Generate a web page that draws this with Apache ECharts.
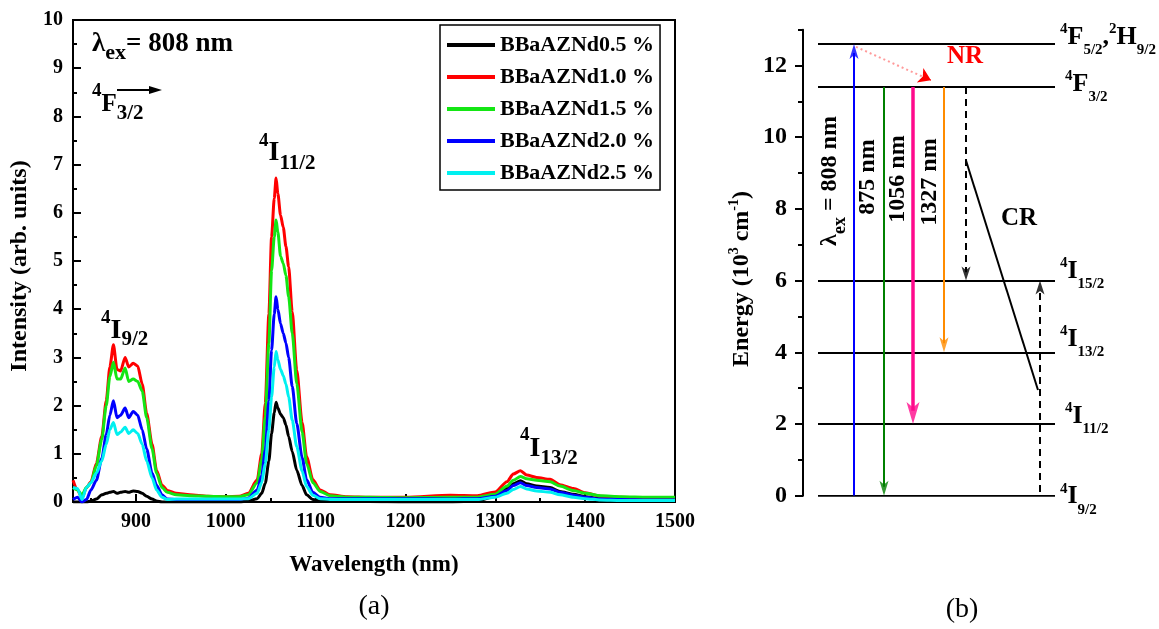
<!DOCTYPE html>
<html>
<head>
<meta charset="utf-8">
<title>Nd3+ emission spectra and energy levels</title>
<script src="https://cdn.jsdelivr.net/npm/echarts@6/dist/echarts.min.js"></script>
<style>
html, body { margin: 0; padding: 0; background: #fff; }
#main { width: 1159px; height: 629px; }
</style>
</head>
<body>
<div id="main"></div>
<script>
// (a) emission spectra, wavelength in nm
var wavelength = [
    830, 835, 840, 845, 850,
    856, 862, 867, 871, 875,
    879, 883, 888, 892, 897,
    902, 907, 912, 918, 923,
    929, 935, 945, 960, 980,
    1000, 1015, 1025, 1035, 1040,
    1044, 1048, 1051, 1054, 1056,
    1058, 1061, 1064, 1067, 1070,
    1074, 1079, 1085, 1090, 1097,
    1105, 1116, 1135, 1160, 1200,
    1250, 1280, 1300, 1313, 1320,
    1328, 1335, 1346, 1361, 1372,
    1387, 1400, 1417, 1440, 1470,
    1500
];
var nd05 = [
    0.00, 0.00, 0.00, 0.00, 0.02,
    0.06, 0.15, 0.18, 0.20, 0.22,
    0.18, 0.20, 0.22, 0.20, 0.23,
    0.22, 0.18, 0.12, 0.06, 0.02,
    0.00, 0.00, 0.00, 0.00, 0.00,
    0.00, 0.00, 0.02, 0.07, 0.18,
    0.39, 0.85, 1.42, 1.85, 2.07,
    1.95, 1.82, 1.75, 1.60, 1.36,
    1.05, 0.66, 0.34, 0.15, 0.05,
    0.02, 0.01, 0.01, 0.01, 0.00,
    0.00, 0.02, 0.12, 0.28, 0.38,
    0.44, 0.38, 0.33, 0.30, 0.22,
    0.16, 0.11, 0.07, 0.05, 0.03,
    0.03
];
var nd10 = [
    0.45, 0.25, 0.08, 0.30, 0.42,
    0.80, 1.36, 2.10, 2.80, 3.26,
    2.75, 2.72, 3.00, 2.80, 2.88,
    2.82, 2.45, 1.84, 1.20, 0.66,
    0.35, 0.24, 0.18, 0.15, 0.12,
    0.11, 0.12, 0.18, 0.46, 1.00,
    2.05, 3.90, 5.50, 6.30, 6.72,
    6.40, 5.95, 5.70, 5.30, 4.88,
    3.95, 2.74, 1.65, 0.94, 0.46,
    0.25, 0.15, 0.11, 0.10, 0.10,
    0.14, 0.13, 0.21, 0.42, 0.58,
    0.65, 0.56, 0.51, 0.47, 0.36,
    0.28, 0.19, 0.12, 0.10, 0.08,
    0.08
];
var nd15 = [
    0.30, 0.25, 0.15, 0.30, 0.40,
    0.75, 1.30, 2.00, 2.60, 2.90,
    2.55, 2.55, 2.78, 2.50, 2.55,
    2.50, 2.30, 1.75, 1.10, 0.60,
    0.30, 0.20, 0.15, 0.13, 0.12,
    0.11, 0.11, 0.15, 0.40, 0.87,
    1.77, 3.30, 4.80, 5.50, 5.85,
    5.60, 5.10, 4.95, 4.70, 4.26,
    3.50, 2.46, 1.45, 0.80, 0.40,
    0.22, 0.13, 0.10, 0.10, 0.09,
    0.10, 0.10, 0.16, 0.33, 0.45,
    0.53, 0.48, 0.45, 0.42, 0.33,
    0.24, 0.18, 0.13, 0.11, 0.10,
    0.10
];
var nd20 = [
    0.05, 0.10, 0.00, 0.05, 0.25,
    0.45, 0.90, 1.40, 1.80, 2.10,
    1.75, 1.80, 1.95, 1.75, 1.88,
    1.80, 1.50, 1.10, 0.60, 0.35,
    0.15, 0.06, 0.05, 0.05, 0.05,
    0.05, 0.05, 0.08, 0.25, 0.55,
    1.08, 2.10, 3.15, 3.90, 4.26,
    4.00, 3.70, 3.50, 3.30, 3.00,
    2.40, 1.63, 0.92, 0.46, 0.20,
    0.10, 0.07, 0.07, 0.07, 0.07,
    0.06, 0.07, 0.12, 0.24, 0.34,
    0.40, 0.34, 0.30, 0.27, 0.20,
    0.14, 0.10, 0.06, 0.05, 0.04,
    0.04
];
var nd25 = [
    0.30, 0.28, 0.05, 0.30, 0.40,
    0.60, 0.85, 1.20, 1.50, 1.65,
    1.40, 1.45, 1.55, 1.42, 1.50,
    1.42, 1.20, 0.85, 0.50, 0.25,
    0.10, 0.05, 0.06, 0.06, 0.06,
    0.06, 0.06, 0.07, 0.18, 0.40,
    0.80, 1.50, 2.18, 2.80, 3.12,
    2.95, 2.75, 2.62, 2.45, 2.18,
    1.70, 1.15, 0.64, 0.32, 0.14,
    0.07, 0.05, 0.05, 0.05, 0.05,
    0.05, 0.05, 0.10, 0.18, 0.26,
    0.32, 0.27, 0.23, 0.20, 0.15,
    0.10, 0.07, 0.04, 0.03, 0.03,
    0.03
];
var sampleNames = ['BBaAZNd0.5 %', 'BBaAZNd1.0 %', 'BBaAZNd1.5 %', 'BBaAZNd2.0 %', 'BBaAZNd2.5 %'];
var xMajorTicks = [900, 1000, 1100, 1200, 1300, 1400, 1500];
var xMinorTicks = [850, 950, 1050, 1150, 1250, 1350, 1450];

// (b) energy levels (10^3 cm-1)
var levelEnergy = [12.6, 11.4, 6, 4, 2, 0];
var levelName = [
    '{sup|4}{big|F}{sub|5/2}{big|,}{sup|2}{big|H}{sub|9/2}',
    '{sup|4}{big|F}{sub|3/2}',
    '{sup|4}{big|I}{sub|15/2}',
    '{sup|4}{big|I}{sub|13/2}',
    '{sup|4}{big|I}{sub|11/2}',
    '{sup|4}{big|I}{sub|9/2}'
];
// transitions: excitation, 875, 1056, 1327, NR down, CR up
var transFrom = [0, 11.4, 11.4, 11.4, 11.4, 0.1];
var transTo = [12.6, 0, 2, 4, 6, 6];
var yMajorB = [0, 2, 4, 6, 8, 10, 12];
var yMinorB = [1, 3, 5, 7, 9, 11, 13];

var FONT = "'Liberation Serif', 'Times New Roman', serif";
var dataSets = [nd05, nd10, nd15, nd20, nd25];
var lineColors = ['#000000', '#ff0000', '#14e614', '#0000ff', '#00f0f0'];

// rich styles for a big letter with superscript / subscript
function tok(size, w, extra) {
    var s = {font: w + ' ' + size + 'px ' + FONT, fontSize: size, fontWeight: w, fontFamily: FONT, fill: '#000'};
    for (var k in extra) s[k] = extra[k];
    return s;
}
function sups(big, supSize, subSize, dSup, dSub, weight) {
    var L = 2 * Math.max(-dSup, dSub) + 6;
    var hs = L + 2 * dSup, hb = L - 2 * dSub;
    var w = weight || 'bold';
    return {
        big: tok(big, w, {lineHeight: L, verticalAlign: 'middle'}),
        b: tok(big, w, {lineHeight: L, verticalAlign: 'middle'}),
        sup: tok(supSize, w, {height: hs, lineHeight: hs, verticalAlign: 'top'}),
        sub: tok(subSize, w, {height: hb, lineHeight: hb, verticalAlign: 'bottom'})
    };
}

var myChart = echarts.init(document.getElementById('main'));

var series = [];
dataSets.forEach(function (vals, i) {
    series.push({
        name: sampleNames[i],
        type: 'line',
        xAxisIndex: 0,
        yAxisIndex: 0,
        symbol: 'none',
        smooth: 0.25,
        smoothMonotone: 'x',
        lineStyle: {color: lineColors[i], width: 3},
        itemStyle: {color: lineColors[i]},
        data: wavelength.map(function (w, k) { return [w, vals[k]]; }),
        z: 3 + i
    });
});

// (b) layout in grid-1 x units (1 unit = 1 px)
var levelX = [15, 252];
var transX = [51, 81, 110, 141, 163, 237];
var transStyle = [
    {color: '#0000ff', width: 2, type: 'solid', head: [9, 15]},
    {color: '#008000', width: 2, type: 'solid', head: [9, 15]},
    {color: '#ff0a8c', width: 3.5, type: 'solid', head: [13, 22]},
    {color: '#ff8c00', width: 2, type: 'solid', head: [9, 15]},
    {color: '#000000', width: 2, type: [7, 5], head: [9, 14]},
    {color: '#000000', width: 2, type: [7, 5], head: [9, 14]}
];
var labelShift = [[5, -7], [10, -3], [5, -9], [5, -13], [10, -8], [5, 1]];
var pxPerUnit = 466 / 13;
var UP = 'path://M0,16L5,12L10,16L5,0Z';
var DOWN = 'path://M0,0L5,4L10,0L5,16Z';

series.push({
    type: 'lines', coordinateSystem: 'cartesian2d', xAxisIndex: 2, yAxisIndex: 1,
    silent: true, z: 2,
    lineStyle: {color: '#000', width: 2, opacity: 1},
    data: levelEnergy.map(function (e) { return {coords: [[levelX[0], e], [levelX[1], e]]}; })
});
series.push({
    type: 'lines', coordinateSystem: 'cartesian2d', xAxisIndex: 2, yAxisIndex: 1,
    silent: true, z: 3,
    data: transFrom.map(function (f, i) {
        var s = transStyle[i];
        var dir = transTo[i] > f ? 1 : -1;
        var end = transTo[i] - dir * (s.head[1] * 0.6) / pxPerUnit;
        return {coords: [[transX[i], f], [transX[i], end]],
            lineStyle: {color: s.color, width: s.width, type: s.type, opacity: 1}};
    }).concat([{coords: [[163, 9.35], [235, 2.95]], lineStyle: {color: '#000', width: 2, type: 'solid', opacity: 1}}])
});
series.push({
    type: 'scatter', xAxisIndex: 2, yAxisIndex: 1, silent: true, z: 4,
    data: transTo.map(function (t, i) {
        var s = transStyle[i];
        var up = t > transFrom[i];
        return {value: [transX[i], t], symbol: up ? UP : DOWN, symbolSize: s.head,
            symbolOffset: [0, up ? '50%' : '-50%'], itemStyle: {color: s.color}};
    })
});
// NR relaxation arrow 4F5/2 -> 4F3/2
series.push({
    type: 'lines', coordinateSystem: 'cartesian2d', xAxisIndex: 2, yAxisIndex: 1,
    silent: true, z: 3,
    lineStyle: {color: '#ff9a9a', width: 2, type: [2, 3], opacity: 1},
    data: [{coords: [[53, 12.52], [122, 11.66]]}]
});
series.push({
    type: 'lines', coordinateSystem: 'cartesian2d', xAxisIndex: 2, yAxisIndex: 1,
    silent: true, z: 4, symbol: ['none', 'arrow'], symbolSize: 12,
    lineStyle: {color: '#ff0000', width: 1, opacity: 1},
    data: [{coords: [[120, 11.69], [128, 11.59]]}]
});

var black2 = {color: '#000', width: 2};

var graphics = [
    // panel (a) annotations
    {type: 'text', x: 92, y: 44, style: {text: '{b|λ}{sub|ex}{b|= 808 nm}', rich: sups(27, 18, 22, -10, 9), align: 'left', verticalAlign: 'middle'}},
    {type: 'text', x: 92, y: 104.5, style: {text: '{sup|4}{big|F}{sub|3/2}', rich: sups(25, 19, 21, -13.5, 9), align: 'left', verticalAlign: 'middle'}},
    {type: 'line', shape: {x1: 117, y1: 90, x2: 152, y2: 90}, style: {stroke: '#000', lineWidth: 2}},
    {type: 'polygon', shape: {points: [[149, 86], [162, 90], [149, 94]]}, style: {fill: '#000'}},
    {type: 'text', x: 259, y: 153, style: {text: '{sup|4}{big|I}{sub|11/2}', rich: sups(28, 19, 21, -12, 11), align: 'left', verticalAlign: 'middle'}},
    {type: 'text', x: 101, y: 331, style: {text: '{sup|4}{big|I}{sub|9/2}', rich: sups(28, 19, 21, -12.5, 9), align: 'left', verticalAlign: 'middle'}},
    {type: 'text', x: 520, y: 449, style: {text: '{sup|4}{big|I}{sub|13/2}', rich: sups(28, 19, 21, -13.5, 9.5), align: 'left', verticalAlign: 'middle'}},
    {type: 'text', x: 374, y: 607, style: {text: '(a)', fill: '#000', font: '28px ' + FONT, align: 'center', verticalAlign: 'middle'}},
    // panel (b) annotations
    {type: 'text', x: 742, y: 279, rotation: Math.PI / 2, style: {text: '{b|Energy (10}{sup|3}{b| cm}{sup|-1}{b|)}', rich: sups(24, 14, 14, -8, 4), align: 'center', verticalAlign: 'middle'}},
    {type: 'text', x: 830, y: 181, rotation: Math.PI / 2, style: {text: '{b|λ}{sub|ex}{b| = 808 nm}', rich: sups(24, 14, 18, -6, 10), align: 'center', verticalAlign: 'middle'}},
    {type: 'text', x: 868, y: 177, rotation: Math.PI / 2, style: {text: '875 nm', fill: '#000', font: 'bold 24px ' + FONT, align: 'center', verticalAlign: 'middle'}},
    {type: 'text', x: 898, y: 179, rotation: Math.PI / 2, style: {text: '1056 nm', fill: '#000', font: 'bold 24px ' + FONT, align: 'center', verticalAlign: 'middle'}},
    {type: 'text', x: 930, y: 182, rotation: Math.PI / 2, style: {text: '1327 nm', fill: '#000', font: 'bold 24px ' + FONT, align: 'center', verticalAlign: 'middle'}},
    {type: 'text', x: 965, y: 57, style: {text: 'NR', fill: '#ff0000', font: 'bold 25px ' + FONT, align: 'center', verticalAlign: 'middle'}},
    {type: 'text', x: 1019, y: 219, style: {text: 'CR', fill: '#000', font: 'bold 25px ' + FONT, align: 'center', verticalAlign: 'middle'}},
    {type: 'text', x: 962, y: 610, style: {text: '(b)', fill: '#000', font: '28px ' + FONT, align: 'center', verticalAlign: 'middle'}}
];

var option = {
    backgroundColor: '#fff',
    animation: false,
    grid: [
        {left: 73, top: 20, width: 602, height: 482, show: true, borderColor: '#000', borderWidth: 2, backgroundColor: 'transparent'},
        {left: 803, top: 29.65, width: 300, height: 466.05}
    ],
    legend: {
        left: 440, top: 25, orient: 'vertical',
        data: sampleNames,
        icon: 'rect',
        itemWidth: 48, itemHeight: 4, itemGap: 10,
        padding: [9, 6, 6, 7],
        borderColor: '#000', borderWidth: 1.5,
        selectedMode: false,
        textStyle: {fontSize: 22, fontWeight: 'bold', fontFamily: FONT, color: '#000'}
    },
    xAxis: [
        {
            gridIndex: 0, type: 'value', min: 830, max: 1500,
            name: 'Wavelength (nm)', nameLocation: 'middle', nameGap: 52,
            nameTextStyle: {color: '#000', fontFamily: FONT, fontWeight: 'bold', fontSize: 23},
            axisLine: {lineStyle: black2},
            axisTick: {inside: true, length: 8, lineStyle: black2, customValues: xMajorTicks},
            axisLabel: {customValues: xMajorTicks, formatter: function (v) { return String(v); },
                color: '#000', fontFamily: FONT, fontWeight: 'bold', fontSize: 20, margin: 10},
            splitLine: {show: false}
        },
        {
            gridIndex: 0, type: 'value', min: 830, max: 1500, position: 'bottom',
            axisLine: {show: false},
            axisTick: {inside: true, length: 4, lineStyle: black2, customValues: xMinorTicks},
            axisLabel: {show: false},
            splitLine: {show: false}
        },
        {gridIndex: 1, type: 'value', min: 0, max: 300, show: false}
    ],
    yAxis: [
        {
            gridIndex: 0, type: 'value', min: 0, max: 10, interval: 1,
            name: 'Intensity (arb. units)', nameLocation: 'middle', nameGap: 38,
            nameTextStyle: {color: '#000', fontFamily: FONT, fontWeight: 'bold', fontSize: 24, padding: [0, 0, 0, -10]},
            axisLine: {show: true, lineStyle: black2},
            axisTick: {show: true, inside: true, length: 8, lineStyle: black2},
            minorTick: {show: true, splitNumber: 2, length: 4, lineStyle: black2},
            axisLabel: {color: '#000', fontFamily: FONT, fontWeight: 'bold', fontSize: 20, margin: 10},
            splitLine: {show: false}
        },
        {
            gridIndex: 1, type: 'value', min: 0, max: 13,
            axisLine: {show: true, lineStyle: black2},
            axisTick: {show: true, inside: false, length: 8, lineStyle: black2, customValues: yMajorB},
            axisLabel: {customValues: yMajorB, color: '#000', fontFamily: FONT, fontWeight: 'bold', fontSize: 24, margin: 16},
            splitLine: {show: false}
        },
        {
            gridIndex: 1, type: 'value', min: 0, max: 13, position: 'left',
            axisLine: {show: false},
            axisTick: {show: true, inside: false, length: 5, lineStyle: black2, customValues: yMinorB},
            axisLabel: {show: false},
            splitLine: {show: false}
        }
    ],
    graphic: graphics,
    series: series
};

myChart.setOption(option);

// energy-level names placed at the right end of each level line
var levelRich = sups(26, 15, 15, -8, 13);
levelEnergy.forEach(function (e, i) {
    var p = myChart.convertToPixel({gridIndex: 1}, [levelX[1], e]);
    graphics.push({
        type: 'text', x: p[0] + labelShift[i][0], y: p[1] + labelShift[i][1],
        style: {text: levelName[i], rich: levelRich, align: 'left', verticalAlign: 'middle'}
    });
});
myChart.setOption({graphic: graphics});
</script>
</body>
</html>
